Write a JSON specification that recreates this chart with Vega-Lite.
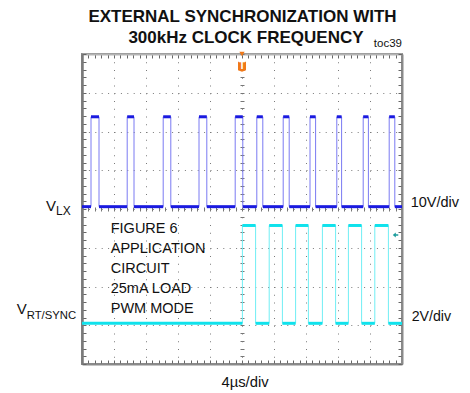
{
  "$schema": "https://vega.github.io/schema/vega-lite/v6.json",
  "width": 320,
  "height": 310,
  "autosize": "none",
  "padding": {"left": 82, "top": 54, "right": 68, "bottom": 29},
  "background": "white",
  "view": {"stroke": "#8a8a8a", "strokeWidth": 2},
  "config": {
    "view": {"stroke": "#8a8a8a", "strokeWidth": 2},
    "text": {"font": "Liberation Sans", "color": "#111111"}
  },
  "datasets": {
    "vlx": [
      {"t": -20, "v": 0.6},
      {"t": -18.875, "v": 0.6}, {"t": -18.875, "v": 23.8}, {"t": -17.875, "v": 23.8}, {"t": -17.875, "v": 0.6},
      {"t": -14.35, "v": 0.6}, {"t": -14.35, "v": 23.8}, {"t": -13.5, "v": 23.8}, {"t": -13.5, "v": 0.6},
      {"t": -9.85, "v": 0.6}, {"t": -9.85, "v": 23.8}, {"t": -8.9, "v": 23.8}, {"t": -8.9, "v": 0.6},
      {"t": -5.375, "v": 0.6}, {"t": -5.375, "v": 23.8}, {"t": -4.4, "v": 23.8}, {"t": -4.4, "v": 0.6},
      {"t": -0.85, "v": 0.6}, {"t": -0.85, "v": 23.8}, {"t": 0.1, "v": 23.8}, {"t": 0.1, "v": 0.6},
      {"t": 1.85, "v": 0.6}, {"t": 1.85, "v": 23.8}, {"t": 2.6, "v": 23.8}, {"t": 2.6, "v": 0.6},
      {"t": 5.15, "v": 0.6}, {"t": 5.15, "v": 23.8}, {"t": 5.9, "v": 23.8}, {"t": 5.9, "v": 0.6},
      {"t": 8.5, "v": 0.6}, {"t": 8.5, "v": 23.8}, {"t": 9.2, "v": 23.8}, {"t": 9.2, "v": 0.6},
      {"t": 11.85, "v": 0.6}, {"t": 11.85, "v": 23.8}, {"t": 12.45, "v": 23.8}, {"t": 12.45, "v": 0.6},
      {"t": 15.15, "v": 0.6}, {"t": 15.15, "v": 23.8}, {"t": 15.8, "v": 23.8}, {"t": 15.8, "v": 0.6},
      {"t": 18.4, "v": 0.6}, {"t": 18.4, "v": 23.8}, {"t": 19.1, "v": 23.8}, {"t": 19.1, "v": 0.6},
      {"t": 20, "v": 0.6}
    ],
    "sync": [
      {"t": -20, "v": 0.1},
      {"t": 0.05, "v": 0.1}, {"t": 0.05, "v": 5.15}, {"t": 1.7, "v": 5.15}, {"t": 1.7, "v": 0.1},
      {"t": 3.4, "v": 0.1}, {"t": 3.4, "v": 5.15}, {"t": 5.05, "v": 5.15}, {"t": 5.05, "v": 0.1},
      {"t": 6.7, "v": 0.1}, {"t": 6.7, "v": 5.15}, {"t": 8.3, "v": 5.15}, {"t": 8.3, "v": 0.1},
      {"t": 10.05, "v": 0.1}, {"t": 10.05, "v": 5.15}, {"t": 11.7, "v": 5.15}, {"t": 11.7, "v": 0.1},
      {"t": 13.3, "v": 0.1}, {"t": 13.3, "v": 5.15}, {"t": 14.95, "v": 5.15}, {"t": 14.95, "v": 0.1},
      {"t": 16.6, "v": 0.1}, {"t": 16.6, "v": 5.15}, {"t": 18.3, "v": 5.15}, {"t": 18.3, "v": 0.1},
      {"t": 20, "v": 0.1}
    ],
    "one": [{}]
  },
  "layer": [
    {
      "data": {"name": "one"},
      "mark": {"type": "point", "opacity": 0},
      "encoding": {
        "x": {"datum": 0, "type": "quantitative",
          "scale": {"domain": [-20, 20], "nice": false, "zero": false},
          "axis": {"orient": "bottom", "title": null, "labels": false, "domain": false, "ticks": false,
            "values": [-16, -12, -8, -4, 0, 4, 8, 12, 16],
            "grid": true, "gridColor": "#7a7a7a", "gridWidth": 1, "gridDash": [1, 6.75]}},
        "y": {"datum": 4, "type": "quantitative",
          "scale": {"domain": [0, 8], "nice": false, "zero": false},
          "axis": {"orient": "left", "title": null, "labels": false, "domain": false, "ticks": false,
            "values": [1, 2, 3, 4, 5, 6, 7],
            "grid": true, "gridColor": "#7a7a7a", "gridWidth": 1, "gridDash": [1, 5.4]}}
      }
    },
    {
      "data": {"name": "one"},
      "mark": {"type": "point", "opacity": 0},
      "encoding": {
        "x": {"datum": 0, "type": "quantitative",
          "axis": {"orient": "bottom", "title": null, "labels": false, "domain": true, "domainColor": "#8a8a8a", "domainWidth": 2, "grid": false,
            "values": [-20,-19.2,-18.4,-17.6,-16.8,-16,-15.2,-14.4,-13.6,-12.8,-12,-11.2,-10.4,-9.6,-8.8,-8,-7.2,-6.4,-5.6,-4.8,-4,-3.2,-2.4,-1.6,-0.8,0,0.8,1.6,2.4,3.2,4,4.8,5.6,6.4,7.2,8,8.8,9.6,10.4,11.2,12,12.8,13.6,14.4,15.2,16,16.8,17.6,18.4,19.2,20],
            "tickSize": -4, "tickColor": "#666666", "tickWidth": 1}},
        "y": {"datum": 4, "type": "quantitative",
          "scale": {"domain": [0, 8], "nice": false, "zero": false},
          "axis": {"orient": "left", "title": null, "labels": false, "domain": true, "domainColor": "#7a7a7a", "domainWidth": 2.5, "grid": false,
            "values": [0,0.2,0.4,0.6,0.8,1,1.2,1.4,1.6,1.8,2,2.2,2.4,2.6,2.8,3,3.2,3.4,3.6,3.8,4,4.2,4.4,4.6,4.8,5,5.2,5.4,5.6,5.8,6,6.2,6.4,6.6,6.8,7,7.2,7.4,7.6,7.8,8],
            "tickSize": -4, "tickColor": "#666666", "tickWidth": 1}}
      }
    },
    {
      "data": {"name": "one"},
      "mark": {"type": "point", "opacity": 0},
      "encoding": {
        "x": {"datum": 0, "type": "quantitative",
          "axis": {"orient": "top", "title": null, "labels": false, "domain": true, "domainColor": "#b4b4b4", "domainWidth": 2, "grid": false,
            "values": [-20,-19.2,-18.4,-17.6,-16.8,-16,-15.2,-14.4,-13.6,-12.8,-12,-11.2,-10.4,-9.6,-8.8,-8,-7.2,-6.4,-5.6,-4.8,-4,-3.2,-2.4,-1.6,-0.8,0,0.8,1.6,2.4,3.2,4,4.8,5.6,6.4,7.2,8,8.8,9.6,10.4,11.2,12,12.8,13.6,14.4,15.2,16,16.8,17.6,18.4,19.2,20],
            "tickSize": -4, "tickColor": "#666666", "tickWidth": 1}},
        "y": {"datum": 4, "type": "quantitative",
          "scale": {"domain": [0, 8], "nice": false, "zero": false},
          "axis": {"orient": "right", "title": null, "labels": false, "domain": true, "domainColor": "#8a8a8a", "domainWidth": 2, "grid": false,
            "values": [0,0.2,0.4,0.6,0.8,1,1.2,1.4,1.6,1.8,2,2.2,2.4,2.6,2.8,3,3.2,3.4,3.6,3.8,4,4.2,4.4,4.6,4.8,5,5.2,5.4,5.6,5.8,6,6.2,6.4,6.6,6.8,7,7.2,7.4,7.6,7.8,8],
            "tickSize": -4, "tickColor": "#666666", "tickWidth": 1}}
      }
    },
    {
      "data": {"name": "one"},
      "mark": {"type": "point", "opacity": 0},
      "encoding": {
        "x": {"datum": 0, "type": "quantitative",
          "axis": {"orient": "top", "offset": -157, "title": null, "labels": false, "domain": false, "grid": false,
            "values": [-20,-19.2,-18.4,-17.6,-16.8,-16,-15.2,-14.4,-13.6,-12.8,-12,-11.2,-10.4,-9.6,-8.8,-8,-7.2,-6.4,-5.6,-4.8,-4,-3.2,-2.4,-1.6,-0.8,0,0.8,1.6,2.4,3.2,4,4.8,5.6,6.4,7.2,8,8.8,9.6,10.4,11.2,12,12.8,13.6,14.4,15.2,16,16.8,17.6,18.4,19.2,20],
            "tickSize": 4, "tickColor": "#777777", "tickWidth": 1}},
        "y": {"datum": 4, "type": "quantitative",
          "scale": {"domain": [0, 8], "nice": false, "zero": false},
          "axis": {"orient": "right", "offset": -162, "title": null, "labels": false, "domain": false, "grid": false,
            "values": [0,0.2,0.4,0.6,0.8,1,1.2,1.4,1.6,1.8,2,2.2,2.4,2.6,2.8,3,3.2,3.4,3.6,3.8,4,4.2,4.4,4.6,4.8,5,5.2,5.4,5.6,5.8,6,6.2,6.4,6.6,6.8,7,7.2,7.4,7.6,7.8,8],
            "tickSize": 4, "tickColor": "#777777", "tickWidth": 1}}
      }
    },
    {
      "data": {"name": "vlx"},
      "mark": {"type": "line", "color": "#7a7af2", "strokeWidth": 1, "clip": true},
      "encoding": {
        "x": {"field": "t", "type": "quantitative", "axis": null},
        "y": {"field": "v", "type": "quantitative", "scale": {"domain": [-40, 40], "nice": false, "zero": false}, "axis": null},
        "order": {"value": null}
      }
    },
    {
      "data": {"name": "vlx"},
      "transform": [
        {"window": [{"op": "lead", "field": "t", "as": "t2"}, {"op": "lead", "field": "v", "as": "v2"}]},
        {"filter": "datum.v2 === datum.v && datum.t2 > datum.t"}
      ],
      "mark": {"type": "rule", "color": "#1a1ae0", "strokeWidth": 3, "clip": true},
      "encoding": {
        "x": {"field": "t", "type": "quantitative", "axis": null},
        "x2": {"field": "t2"},
        "y": {"field": "v", "type": "quantitative", "scale": {"domain": [-40, 40], "nice": false, "zero": false}, "axis": null}
      }
    },
    {
      "data": {"name": "sync"},
      "mark": {"type": "line", "color": "#70eef4", "strokeWidth": 1, "clip": true},
      "encoding": {
        "x": {"field": "t", "type": "quantitative", "axis": null},
        "y": {"field": "v", "type": "quantitative", "scale": {"domain": [-2, 14], "nice": false, "zero": false}, "axis": null},
        "order": {"value": null}
      }
    },
    {
      "data": {"name": "sync"},
      "transform": [
        {"window": [{"op": "lead", "field": "t", "as": "t2"}, {"op": "lead", "field": "v", "as": "v2"}]},
        {"filter": "datum.v2 === datum.v && datum.t2 > datum.t"}
      ],
      "mark": {"type": "rule", "color": "#10e2ec", "strokeWidth": 3, "clip": true},
      "encoding": {
        "x": {"field": "t", "type": "quantitative", "axis": null},
        "x2": {"field": "t2"},
        "y": {"field": "v", "type": "quantitative", "scale": {"domain": [-2, 14], "nice": false, "zero": false}, "axis": null}
      }
    },
    {
      "data": {"name": "one"},
      "layer": [
        {
          "mark": {"type": "point", "filled": true, "color": "#f07818", "opacity": 1, "size": 28, "shape": "triangle-down"},
          "encoding": {"x": {"datum": 0, "axis": null}, "y": {"datum": 8, "type": "quantitative", "scale": {"domain": [0, 8], "nice": false, "zero": false}, "axis": null}}
        },
        {
          "mark": {"type": "point", "filled": true, "color": "#f07818", "opacity": 1, "size": 100,
            "shape": "M-0.8,-1 L0.8,-1 L0.8,0.7 L0,1 L-0.8,0.7 Z"},
          "encoding": {"x": {"datum": 0, "axis": null}, "y": {"datum": 7.67, "axis": null}}
        },
        {
          "mark": {"type": "text", "fontSize": 10, "fontWeight": "bold", "color": "white", "align": "center", "baseline": "middle"},
          "encoding": {"x": {"datum": 0, "axis": null}, "y": {"datum": 7.68, "axis": null}, "text": {"value": "T"}}
        },
        {
          "mark": {"type": "point", "filled": true, "color": "#1b9c9c", "opacity": 1, "size": 30,
            "shape": "M-1,0 L0.1,-0.9 L0.1,-0.3 L1,-0.3 L1,0.3 L0.1,0.3 L0.1,0.9 Z"},
          "encoding": {"x": {"datum": 19.19, "axis": null}, "y": {"datum": 3.329, "axis": null}}
        },
        {
          "mark": {"type": "text", "fontSize": 17, "fontWeight": "bold", "align": "center", "baseline": "alphabetic"},
          "encoding": {"x": {"datum": 0.06, "axis": null}, "y": {"datum": 8.834, "axis": null}, "text": {"value": "EXTERNAL SYNCHRONIZATION WITH"}}
        },
        {
          "mark": {"type": "text", "fontSize": 17, "fontWeight": "bold", "align": "center", "baseline": "alphabetic"},
          "encoding": {"x": {"datum": 0.5, "axis": null}, "y": {"datum": 8.284, "axis": null}, "text": {"value": "300kHz CLOCK FREQUENCY"}}
        },
        {
          "mark": {"type": "text", "fontSize": 11.5, "align": "right", "baseline": "alphabetic"},
          "encoding": {"x": {"datum": 20, "axis": null}, "y": {"datum": 8.188, "axis": null}, "text": {"value": "toc39"}}
        },
        {
          "mark": {"type": "text", "fontSize": 15, "align": "right", "baseline": "alphabetic"},
          "encoding": {"x": {"datum": -23.25, "axis": null}, "y": {"datum": 3.956, "axis": null}, "text": {"value": "V"}}
        },
        {
          "mark": {"type": "text", "fontSize": 12, "align": "left", "baseline": "alphabetic"},
          "encoding": {"x": {"datum": -23.25, "axis": null}, "y": {"datum": 3.845, "axis": null}, "text": {"value": "LX"}}
        },
        {
          "mark": {"type": "text", "fontSize": 14.5, "align": "left", "baseline": "alphabetic"},
          "encoding": {"x": {"datum": 21.09, "axis": null}, "y": {"datum": 4.059, "axis": null}, "text": {"value": "10V/div"}}
        },
        {
          "mark": {"type": "text", "fontSize": 14.5, "align": "left", "baseline": "alphabetic", "lineHeight": 20},
          "encoding": {"x": {"datum": -16.41, "axis": null}, "y": {"datum": 3.373, "axis": null}, "text": {"value": ["FIGURE 6", "APPLICATION", "CIRCUIT", "25mA LOAD", "PWM MODE"]}}
        },
        {
          "mark": {"type": "text", "fontSize": 14.8, "align": "center", "baseline": "alphabetic"},
          "encoding": {"x": {"datum": 0.375, "axis": null}, "y": {"datum": -0.586, "axis": null}, "text": {"value": "4µs/div"}}
        },
        {
          "mark": {"type": "text", "fontSize": 15, "align": "right", "baseline": "alphabetic"},
          "encoding": {"x": {"datum": -26.91, "axis": null}, "y": {"datum": 1.29, "axis": null}, "text": {"value": "V"}}
        },
        {
          "mark": {"type": "text", "fontSize": 11.3, "align": "left", "baseline": "alphabetic"},
          "encoding": {"x": {"datum": -26.91, "axis": null}, "y": {"datum": 1.153, "axis": null}, "text": {"value": "RT/SYNC"}}
        },
        {
          "mark": {"type": "text", "fontSize": 14.2, "align": "left", "baseline": "alphabetic"},
          "encoding": {"x": {"datum": 21.21, "axis": null}, "y": {"datum": 1.11, "axis": null}, "text": {"value": "2V/div"}}
        }
      ]
    }
  ],
  "resolve": {"scale": {"y": "independent"}, "axis": {"x": "independent", "y": "independent"}}
}
